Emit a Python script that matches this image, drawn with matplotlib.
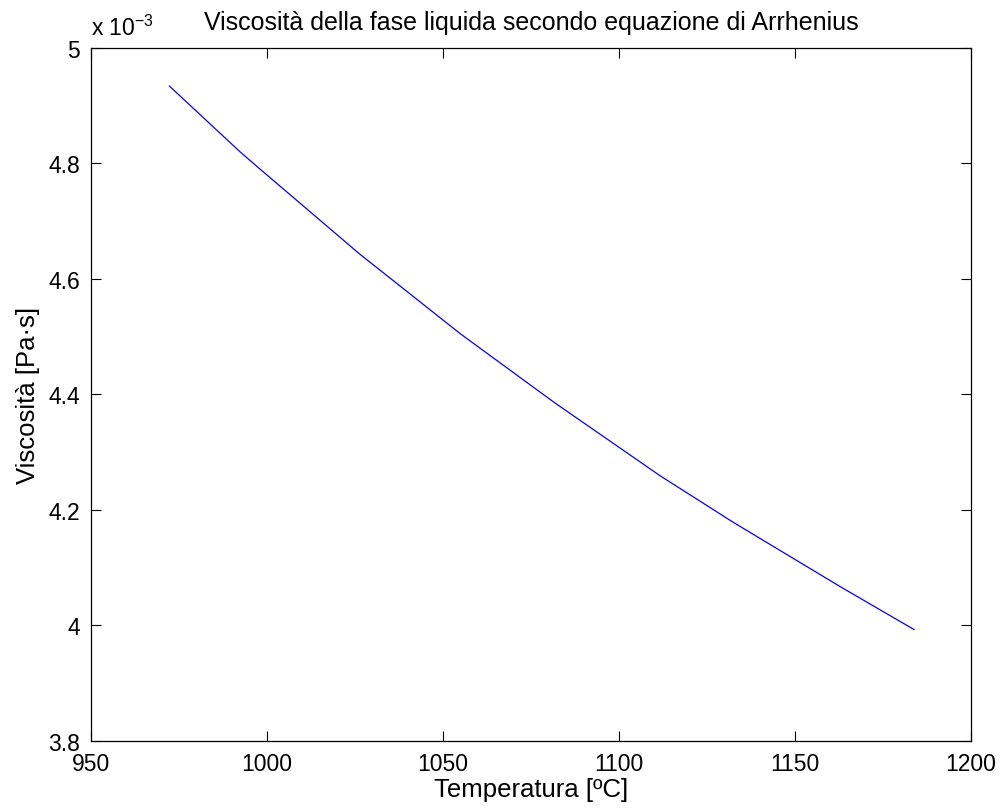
import matplotlib
matplotlib.use("Agg")
import matplotlib.pyplot as plt

plt.rcParams["font.family"] = ["Liberation Sans", "DejaVu Sans"]
plt.rcParams["mathtext.fontset"] = "custom"
plt.rcParams["mathtext.rm"] = "Liberation Sans"
plt.rcParams["mathtext.it"] = "Liberation Sans"

# temperatura [°C] e viscosità [x 1e-3 Pa·s]
temperatura = [972.3, 992.4, 998.1, 1026.4, 1055.0, 1081.7, 1111.8, 1132.7, 1163.0, 1183.9]
viscosita = [4.934, 4.820, 4.790, 4.643, 4.505, 4.386, 4.259, 4.178, 4.067, 3.993]

x_ticks = [950, 1000, 1050, 1100, 1150, 1200]
y_ticks = [3.8, 4.0, 4.2, 4.4, 4.6, 4.8, 5.0]

fig = plt.figure(figsize=(10.03, 8.12), dpi=100)
ax = fig.add_axes([91 / 1003, 1 - 742 / 812, (970.7 - 91) / 1003, (742 - 49) / 812])

ax.plot(temperatura, viscosita, color="#0000FF", linewidth=0.9)

ax.set_xlim(950, 1200)
ax.set_ylim(3.8, 5.0)
ax.set_xticks(x_ticks)
ax.set_yticks(y_ticks)
ax.set_yticklabels([f"{v:g}" for v in y_ticks])

ax.tick_params(direction="in", length=7, width=0.8, top=True, right=True,
               labelsize=16.5, pad=8, colors="black")
for s in ax.spines.values():
    s.set_linewidth(0.9)

ax.set_xlabel("Temperatura [ºC]", fontsize=18.5, labelpad=1)
ax.set_ylabel("Viscosità [Pa·s]", fontsize=18.5, labelpad=6)
ax.set_title("Viscosità della fase liquida secondo equazione di Arrhenius",
             fontsize=18, pad=14)

ax.text(0.0, 1.012, r"x 10$^{\mathrm{-3}}$", transform=ax.transAxes,
        fontsize=16.5, ha="left", va="bottom")

fig.savefig("out.png", dpi=100)
